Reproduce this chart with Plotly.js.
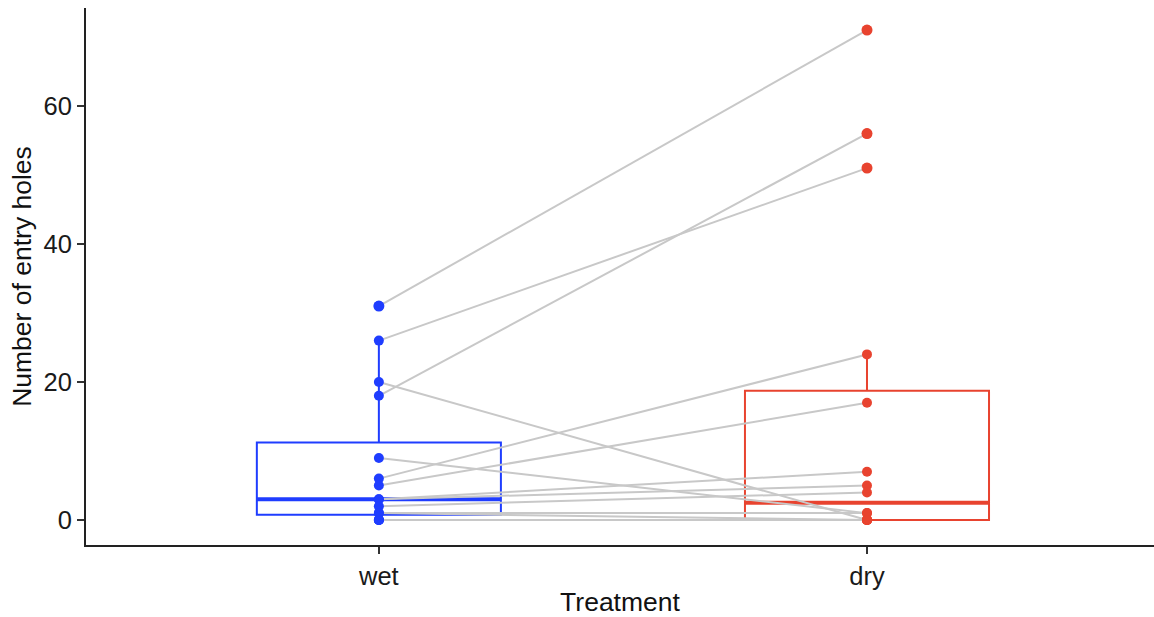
<!DOCTYPE html>
<html>
<head>
<meta charset="utf-8">
<script src="https://cdn.plot.ly/plotly-3.0.1.min.js"></script>
<style>html,body{margin:0;padding:0;background:#fff;}#chart{width:1154px;height:617px;}</style>
</head>
<body>
<div id="chart"></div>
<script>
// ---- data ----
const categories = ["wet", "dry"];
// paired observations (same index = same subject)
const wetValues = [31, 26, 18, 20, 9, 6, 5, 3, 3, 2, 1, 1, 0, 0, 0, 0];
const dryValues = [71, 51, 56, 0, 1, 24, 17, 7, 5, 4, 1, 0, 0, 0, 0, 0];
const groupColors = ["#1f3dff", "#e8432f"];
const xTitle = "Treatment";
const yTitle = "Number of entry holes";
const yTickVals = [0, 20, 40, 60];

// ---- helpers ----
function quantile7(arr, p) {
  const s = arr.slice().sort((a, b) => a - b);
  const h = (s.length - 1) * p;
  const lo = Math.floor(h), hi = Math.ceil(h);
  return s[lo] + (h - lo) * (s[hi] - s[lo]);
}
function boxStats(arr) {
  const q1 = quantile7(arr, 0.25), med = quantile7(arr, 0.5), q3 = quantile7(arr, 0.75);
  const iqr = q3 - q1;
  const upLim = q3 + 1.5 * iqr, loLim = q1 - 1.5 * iqr;
  const inside = arr.filter(v => v >= loLim && v <= upLim);
  const outliers = arr.filter(v => v < loLim || v > upLim);
  return {q1, med, q3, lo: Math.min(...inside), hi: Math.max(...inside), outliers};
}

const groups = [wetValues, dryValues];
const boxWidth = 0.5;
const traces = [];

// boxes
const stats = groups.map(boxStats);
groups.forEach((vals, i) => {
  const st = stats[i];
  traces.push({
    type: "box", x: [i], q1: [st.q1], median: [st.med], q3: [st.q3],
    lowerfence: [st.lo], upperfence: [st.hi],
    width: boxWidth, whiskerwidth: 0, boxpoints: false,
    fillcolor: "rgba(0,0,0,0)", line: {color: groupColors[i], width: 2},
    hoverinfo: "skip", showlegend: false
  });
  traces.push({
    type: "scatter", mode: "lines",
    x: [i - boxWidth / 2, i + boxWidth / 2], y: [st.med, st.med],
    line: {color: groupColors[i], width: 4}, hoverinfo: "skip", showlegend: false
  });
});

// paired lines
const lx = [], ly = [];
wetValues.forEach((w, k) => {
  lx.push(0, 1, null);
  ly.push(w, dryValues[k], null);
});
traces.push({
  type: "scatter", mode: "lines", x: lx, y: ly,
  line: {color: "#c8c8c8", width: 2}, hoverinfo: "skip", showlegend: false
});

// points
groups.forEach((vals, i) => {
  traces.push({
    type: "scatter", mode: "markers",
    x: vals.map(() => i), y: vals,
    marker: {color: groupColors[i], size: 10},
    showlegend: false
  });
  // boxplot outlier markers (drawn slightly larger, as in the boxplot layer)
  traces.push({
    type: "scatter", mode: "markers",
    x: stats[i].outliers.map(() => i), y: stats[i].outliers,
    marker: {color: groupColors[i], size: 11},
    showlegend: false
  });
});

const font = {family: "Liberation Sans, Arial, sans-serif", size: 25, color: "#1a1a1a"};
const layout = {
  width: 1154, height: 617,
  margin: {l: 86, r: 0, t: 8, b: 72},
  paper_bgcolor: "#fff", plot_bgcolor: "#fff",
  showlegend: false,
  font: font,
  xaxis: {
    range: [-0.6, 1.588], tickvals: [0, 1], ticktext: categories,
    showgrid: false, zeroline: false,
    showline: true, linecolor: "#222", linewidth: 2,
    ticks: "outside", ticklen: 7, tickwidth: 2, tickcolor: "#333",
    tickfont: {family: font.family, size: 25.5, color: "#1a1a1a"},
    title: {text: xTitle, font: {family: font.family, size: 26.5, color: "#111"}, standoff: 6}
  },
  yaxis: {
    range: [-3.62, 74.2], tickvals: yTickVals,
    showgrid: false, zeroline: false,
    showline: true, linecolor: "#222", linewidth: 2,
    ticks: "outside", ticklen: 7, tickwidth: 2, tickcolor: "#333",
    tickfont: {family: font.family, size: 25.5, color: "#1a1a1a"},
    title: {text: yTitle, font: {family: font.family, size: 26.5, color: "#111"}, standoff: 4}
  }
};
Plotly.newPlot("chart", traces, layout, {staticPlot: true, displayModeBar: false});
</script>
</body>
</html>
